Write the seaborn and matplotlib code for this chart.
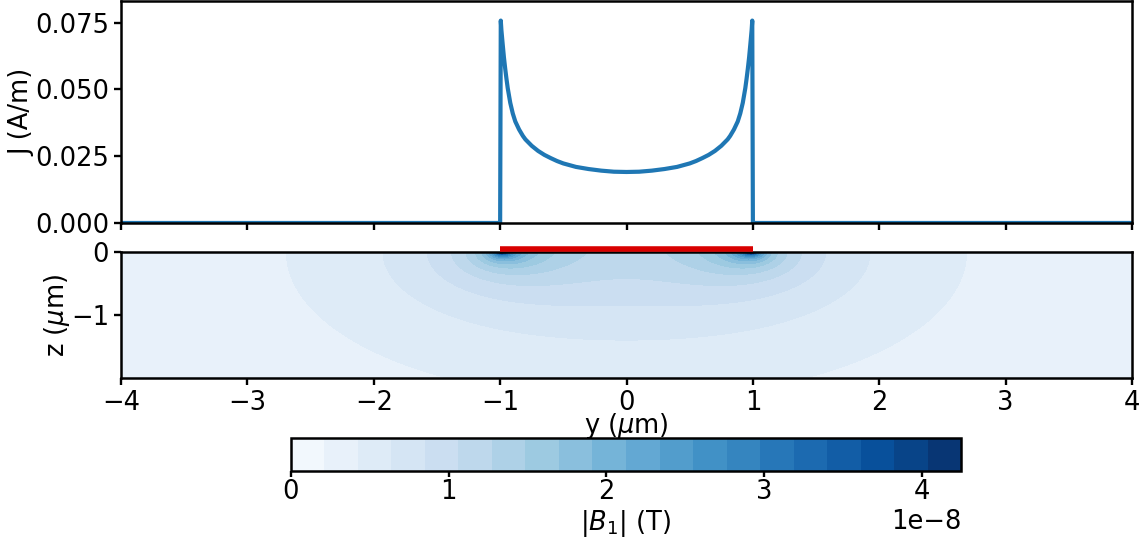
import numpy as np
import pandas as pd
import matplotlib
matplotlib.use("Agg")
import matplotlib.pyplot as plt
import seaborn as sns

# ---- data ----
y_um = [-4.0, -1.0, -0.995, -0.99, -0.98, -0.97, -0.96, -0.95, -0.94, -0.92, -0.90,
        -0.88, -0.85, -0.82, -0.80, -0.75, -0.70, -0.65, -0.60, -0.55, -0.50,
        -0.40, -0.30, -0.20, -0.10, 0.0, 0.10, 0.20, 0.30, 0.40,
        0.50, 0.55, 0.60, 0.65, 0.70, 0.75, 0.80, 0.82, 0.85, 0.88,
        0.90, 0.92, 0.94, 0.95, 0.96, 0.97, 0.98, 0.99, 0.995, 1.0, 4.0]
J_Am = [0.0, 0.0, 0.0758, 0.0722, 0.0670, 0.0620, 0.0578, 0.0540, 0.0505, 0.0450, 0.0410,
        0.0380, 0.0350, 0.0326, 0.0313, 0.0289, 0.0270, 0.0255, 0.0243, 0.0232, 0.0223,
        0.0210, 0.0202, 0.0196, 0.0192, 0.0191, 0.0192, 0.0196, 0.0202, 0.0210,
        0.0223, 0.0232, 0.0243, 0.0255, 0.0270, 0.0289, 0.0313, 0.0326, 0.0350, 0.0380,
        0.0410, 0.0450, 0.0505, 0.0540, 0.0578, 0.0620, 0.0670, 0.0722, 0.0758, 0.0, 0.0]
strip_edges = [-1.0, 1.0]
B_max = 4.25e-8
n_levels = 20
cbar_ticks = [0, 1e-8, 2e-8, 3e-8, 4e-8]

sns.set_theme(style="ticks")
FS = 18.5
plt.rcParams.update({
    "font.family": ["DejaVu Sans"],
    "font.size": FS,
    "axes.linewidth": 1.8,
    "xtick.major.width": 1.7,
    "ytick.major.width": 1.7,
    "xtick.major.size": 5,
    "ytick.major.size": 5,
    "xtick.labelsize": FS,
    "ytick.labelsize": FS,
    "axes.labelsize": FS,
    "axes.edgecolor": "black",
    "xtick.color": "black",
    "ytick.color": "black",
    "text.color": "black",
    "axes.labelcolor": "black",
})

fig = plt.figure(figsize=(11.46, 5.42), dpi=100)
ax1 = fig.add_axes([0.1056, 0.5886, 0.8822, 0.4094])
ax2 = fig.add_axes([0.1056, 0.3026, 0.8822, 0.2324])
cax = fig.add_axes([0.2539, 0.131, 0.5847, 0.061])

# ---- top: current density ----
df = pd.DataFrame({"y": y_um, "J": J_Am})
sns.lineplot(data=df, x="y", y="J", ax=ax1, sort=False, estimator=None,
             color="#1f77b4", linewidth=3)
ax1.set_xlim(-4, 4)
ax1.set_ylim(0, 0.0831)
ax1.set_yticks([0.0, 0.025, 0.05, 0.075])
ax1.yaxis.set_major_formatter(matplotlib.ticker.FormatStrFormatter("%.3f"))
ax1.set_xticks(range(-4, 5))
ax1.set_xticklabels([])
ax1.set_xlabel("")
ax1.set_ylabel("J (A/m)", labelpad=0)

# ---- bottom: field magnitude from the current (Biot-Savart) ----
ys_src = np.linspace(-1.0, 1.0, 2001)
J_src = np.interp(ys_src, y_um, J_Am)
dy = ys_src[1] - ys_src[0]
I_src = J_src * dy  # A (µm units cancel with 1/r in µm)
yg = np.linspace(-4, 4, 481)
zg = np.linspace(-2.0, -0.004, 200)
B = np.zeros((zg.size, yg.size))
for i, z in enumerate(zg):
    dyy = yg[:, None] - ys_src[None, :]
    r2 = dyy ** 2 + z ** 2
    By = -2e-7 * np.sum(I_src[None, :] * z / r2, axis=1)
    Bz = 2e-7 * np.sum(I_src[None, :] * dyy / r2, axis=1)
    B[i] = np.hypot(By, Bz)
B = np.minimum(B, B_max)
levels = np.linspace(0, B_max, n_levels + 1)
cmap = sns.color_palette("Blues", as_cmap=True)
cf = ax2.contourf(yg, zg, B, levels=levels, cmap=cmap)
ax2.plot(strip_edges, [0.05, 0.05], color="#d80000", linewidth=4,
         solid_capstyle="butt", clip_on=False, zorder=5)
ax2.set_xlim(-4, 4)
ax2.set_ylim(-2, 0)
ax2.set_yticks([-1, 0])
ax2.set_xticks(range(-4, 5))
ax2.set_xlabel(r"y ($\mu$m)", labelpad=-3.5)
ax2.set_ylabel(r"z ($\mu$m)", labelpad=-1)

cb = fig.colorbar(cf, cax=cax, orientation="horizontal")
cb.set_ticks(cbar_ticks)
cb.outline.set_linewidth(1.8)
cb.ax.tick_params(width=1.7, length=4, pad=2)
cb.set_label(r"$|B_1|$ (T)", labelpad=2)

fig.savefig("out.png", dpi=100)
